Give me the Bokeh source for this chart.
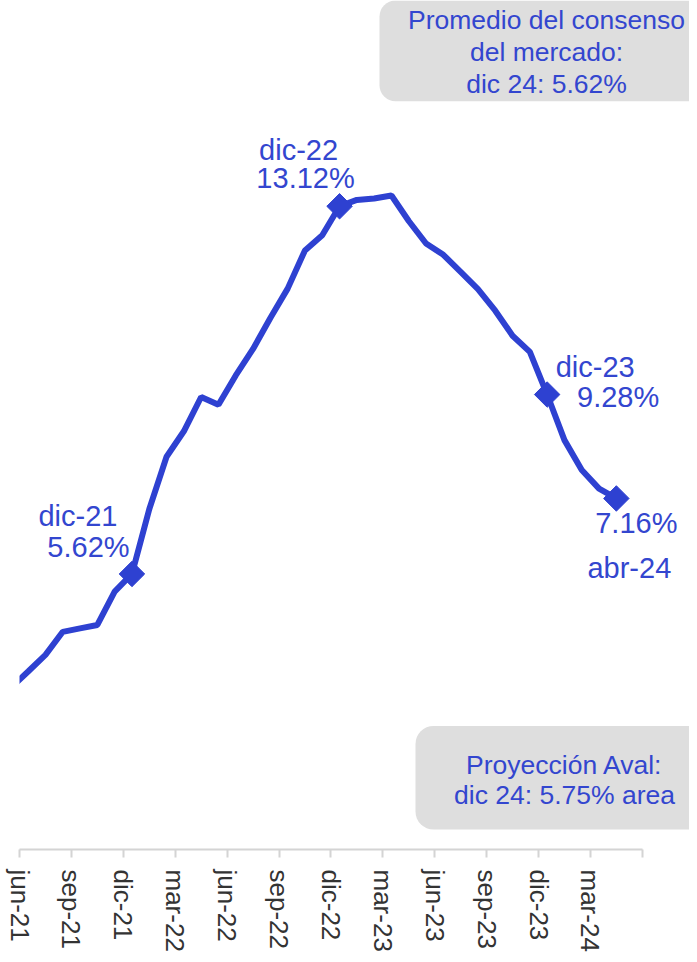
import math
from bokeh.plotting import figure
from bokeh.models import Range1d, FixedTicker, BoxAnnotation
from bokeh.core.properties import value
from bokeh.embed import file_html
from bokeh.resources import INLINE

# ---- data: Colombia annual CPI inflation (%), monthly ----
months = ["may-21", "jun-21", "jul-21", "ago-21", "sep-21", "oct-21", "nov-21", "dic-21",
          "ene-22", "feb-22", "mar-22", "abr-22", "may-22", "jun-22", "jul-22", "ago-22",
          "sep-22", "oct-22", "nov-22", "dic-22",
          "ene-23", "feb-23", "mar-23", "abr-23", "may-23", "jun-23", "jul-23", "ago-23",
          "sep-23", "oct-23", "nov-23", "dic-23",
          "ene-24", "feb-24", "mar-24", "abr-24"]
inflation = [3.30, 3.63, 3.97, 4.44, 4.51, 4.58, 5.26, 5.62,
             6.94, 8.01, 8.53, 9.23, 9.07, 9.67, 10.21, 10.84,
             11.44, 12.22, 12.53, 13.12,
             13.25, 13.28, 13.34, 12.82, 12.36, 12.13, 11.78, 11.43,
             10.99, 10.48, 10.15, 9.28,
             8.35, 7.74, 7.36, 7.16]
highlight = ["dic-21", "dic-22", "dic-23", "abr-24"]
tick_labels = ["jun-21", "sep-21", "dic-21", "mar-22", "jun-22", "sep-22", "dic-22",
               "mar-23", "jun-23", "sep-23", "dic-23", "mar-24", ""]
consenso_text = ["Promedio del consenso", "del mercado:", "dic 24: 5.62%"]
aval_text = ["Proyección Aval:", "dic 24: 5.75% area"]

BLUE = "#2E41D1"
TXT = "#3346CF"
GRAY_BOX = "#dedede"
FONT = value("Liberation Sans")

# month index: jun-21 = 0 at month start; data plotted mid-month
xs = [i - 1 + 0.5 for i in range(len(months))]

PXX = 17.3   # px per month
PXY = 49.2   # px per percentage point
LEFT, AXIS_Y = 19, 852

W, H = 689, 954
p = figure(width=W, height=H, output_backend="svg", toolbar_location=None,
           x_range=Range1d(0, (W - LEFT) / PXX), y_range=Range1d(0, AXIS_Y / PXY),
           y_axis_location=None, min_border_left=LEFT, min_border_right=0,
           min_border_top=0, min_border_bottom=H - AXIS_Y)
p.outline_line_color = None
p.xgrid.visible = False
p.ygrid.visible = False


def sx(px):
    return (px - LEFT) / PXX


def sy(py):
    return (AXIS_Y - py) / PXY


# boxes
p.add_layout(BoxAnnotation(left=sx(379), right=45, bottom=sy(101), top=sy(0), level="underlay",
                           fill_color=GRAY_BOX, fill_alpha=1, line_color=None, border_radius=16))
p.add_layout(BoxAnnotation(left=sx(415), right=45, bottom=sy(832), top=sy(728), level="underlay",
                           fill_color=GRAY_BOX, fill_alpha=1, line_color=None, border_radius=18))

p.line(xs, inflation, line_width=6, color=BLUE)

hx = [xs[months.index(m)] for m in highlight]
hy = [inflation[months.index(m)] for m in highlight]
p.scatter(hx, hy, marker="square", angle=math.pi / 4, size=18, color=BLUE)

# point labels: offsets in screen px (dx, dy down) -> data units
offsets = {
    "dic-21": [(-54, -58, "dic-21"), (-43.5, -27.5, "5.62%")],
    "dic-22": [(-41, -56, "dic-22"), (-34, -28, "13.12%")],
    "dic-23": [(48, -28, "dic-23"), (71, 2, "9.28%")],
    "abr-24": [(20, 25, "7.16%"), (13, 70, "abr-24")],
}
lx, ly, lt = [], [], []
for m in highlight:
    x0 = xs[months.index(m)]
    y0 = inflation[months.index(m)]
    for dx, dy, t in offsets[m]:
        lx.append(x0 + dx / PXX)
        ly.append(y0 - dy / PXY)
        lt.append(t)
p.text(x=lx, y=ly, text=lt, text_font=FONT, text_font_size="29px", text_color=TXT,
       text_align="center", text_baseline="alphabetic")

# box texts
bx = [sx(546)] * 3 + [sx(564)] * 2
by = [sy(b) for b in (20, 52, 84, 767, 797)]
p.text(x=bx, y=by, text=consenso_text + aval_text, text_font=FONT, text_font_size="26.5px",
       text_color=TXT, text_align="center", text_baseline="alphabetic")

ax = p.xaxis[0]
ax.ticker = FixedTicker(ticks=list(range(0, 37, 3)))
ax.major_label_overrides = {t: lab for t, lab in zip(range(0, 37, 3), tick_labels)}
ax.bounds = (0, 36)
ax.axis_line_color = "#d4d4d4"
ax.axis_line_width = 2
ax.major_tick_line_color = "#d4d4d4"
ax.major_tick_line_width = 2
ax.major_tick_in = 0
ax.major_tick_out = 8
ax.minor_tick_line_color = None
ax.major_label_orientation = "vertical"
ax.major_label_standoff = 12
ax.major_label_text_font = "Liberation Sans"
ax.major_label_text_font_size = "26px"
ax.major_label_text_color = "#333333"

open("out.html", "w").write(file_html(p, INLINE))
